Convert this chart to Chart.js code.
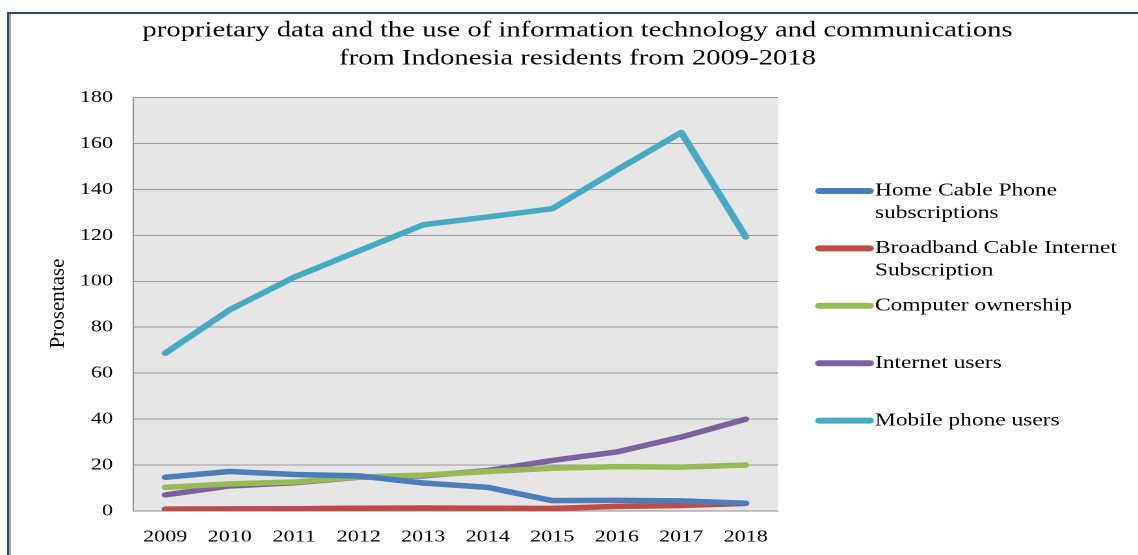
<!DOCTYPE html>
<html>
<head>
<meta charset="utf-8">
<script src="https://cdn.jsdelivr.net/npm/chart.js@4.4.1/dist/chart.umd.min.js"></script>
<style>
  html, body { margin: 0; padding: 0; background: #fff; }
  #wrap { position: relative; width: 1138px; height: 555px; overflow: hidden; }
  #frame { position: absolute; left: 7px; top: 12px; width: 1200px; height: 600px;
           border-left: 2px solid #2d4a76; border-top: 2px solid #2d4a76;
           box-shadow: inset 2px 0 0 #a8a8a8; }
  #c { position: absolute; left: 0; top: 0; transform-origin: 0 0; }
</style>
</head>
<body>
<div id="wrap">
  <div id="frame"></div>
  <canvas id="c" width="875" height="555"></canvas>
</div>
<script>
const titleLines = ['proprietary data and the use of information technology and communications', 'from Indonesia residents from 2009-2018'];
const yAxisTitle = 'Prosentase';
const years = ['2009','2010','2011','2012','2013','2014','2015','2016','2017','2018'];
const seriesNames = ['Home Cable Phone subscriptions', 'Broadband Cable Internet Subscription', 'Computer ownership', 'Internet users', 'Mobile phone users'];
const legendLines = [['Home Cable Phone', 'subscriptions'], ['Broadband Cable Internet', 'Subscription'], ['Computer ownership'], ['Internet users'], ['Mobile phone users']];
const homeCablePhone = [14.7, 17.2, 15.9, 15.3, 12.2, 10.3, 4.5, 4.6, 4.4, 3.4];
const broadband = [0.8, 0.9, 1.0, 1.2, 1.3, 1.2, 1.1, 2.0, 2.4, 3.3];
const computerOwnership = [10.3, 11.8, 12.6, 14.8, 15.6, 17.2, 18.6, 19.3, 19.1, 20.0];
const internetUsers = [7.0, 10.9, 12.3, 14.7, 15.3, 17.6, 22.0, 25.7, 32.2, 40.0];
const mobileUsers = [68.7, 87.6, 101.8, 113.2, 124.6, 128.0, 131.6, 148.4, 164.8, 119.3];
const yTicks = [0, 20, 40, 60, 80, 100, 120, 140, 160, 180];
const colors = ['#4a7ebb', '#be4b48', '#98b954', '#7d60a0', '#46aac5'];
const serif = '"Liberation Serif", "Times New Roman", serif';

const allSeries = [homeCablePhone, broadband, computerOwnership, internetUsers, mobileUsers];

// The reference picture is stretched horizontally; the chart is drawn
// at a narrower logical width and widened by this factor.
const STRETCH = 1138 / 875;
const X = v => v / STRETCH; // display x -> logical x

const bgPlugin = {
  id: 'plotBg',
  beforeDraw(chart) {
    const a = chart.chartArea, ctx = chart.ctx;
    ctx.save();
    ctx.fillStyle = '#e6e6e6';
    ctx.fillRect(a.left, a.top, a.right - a.left, a.bottom - a.top);
    ctx.restore();
  }
};

const textPlugin = {
  id: 'texts',
  afterDraw(chart) {
    const ctx = chart.ctx;
    ctx.save();
    // title
    ctx.fillStyle = '#000';
    ctx.font = '22px ' + serif;
    ctx.textAlign = 'center';
    ctx.textBaseline = 'middle';
    titleLines.forEach((t, i) => ctx.fillText(t, X(577.5), 30.5 + i * 28));
    // y axis title (drawn unstretched on screen)
    ctx.save();
    ctx.translate(X(58), 303.5);
    ctx.rotate(-Math.PI / 2);
    ctx.scale(1, 1 / STRETCH);
    ctx.font = '21px ' + serif;
    ctx.fillText(yAxisTitle, 0, 0);
    ctx.restore();
    // legend
    const startY = 191, step = 57.4, lineH = 22.5;
    chart.data.datasets.forEach((ds, i) => {
      const y = startY + i * step;
      ctx.strokeStyle = ds.borderColor;
      ctx.lineWidth = 6;
      ctx.lineCap = 'round';
      ctx.beginPath();
      ctx.moveTo(X(819), y);
      ctx.lineTo(X(870), y);
      ctx.stroke();
      ctx.fillStyle = '#000';
      ctx.font = '18px ' + serif;
      ctx.textBaseline = 'middle';
      ctx.textAlign = 'left';
      legendLines[i].forEach((t, j) => ctx.fillText(t, X(875), y + j * lineH));
    });
    ctx.restore();
  }
};

const canvas = document.getElementById('c');
new Chart(canvas, {
  type: 'line',
  data: {
    labels: years,
    datasets: allSeries.map((d, i) => ({
      label: seriesNames[i],
      data: d,
      borderColor: colors[i],
      backgroundColor: colors[i],
      borderWidth: 5.5,
      borderCapStyle: 'round',
      borderJoinStyle: 'round',
      pointRadius: 0,
      tension: 0,
      fill: false
    }))
  },
  options: {
    responsive: false,
    animation: false,
    devicePixelRatio: 2,
    layout: { padding: { left: 0, right: 875 - X(778), top: 97.5, bottom: 0 } },
    plugins: {
      legend: { display: false },
      tooltip: { enabled: false },
      title: { display: false }
    },
    scales: {
      x: {
        type: 'category',
        offset: true,
        grid: { display: false, drawTicks: false },
        border: { display: true, color: '#8c8c8c', width: 1 },
        ticks: { color: '#000', font: { family: serif, size: 17 }, padding: 16, maxRotation: 0 },
        afterFit(scale) { scale.height = 44; }
      },
      y: {
        min: 0, max: 180,
        afterBuildTicks(scale) { scale.ticks = yTicks.map(v => ({ value: v })); },
        grid: { color: '#9a9a9a', lineWidth: 1, drawTicks: false },
        border: { display: true, color: '#8c8c8c', width: 1 },
        ticks: { color: '#000', font: { family: serif, size: 17 }, padding: X(133) - X(113) },
        afterFit(scale) { scale.width = X(133); }
      }
    }
  },
  plugins: [bgPlugin, textPlugin]
});
canvas.style.transform = 'scaleX(' + STRETCH + ')';
</script>
</body>
</html>
